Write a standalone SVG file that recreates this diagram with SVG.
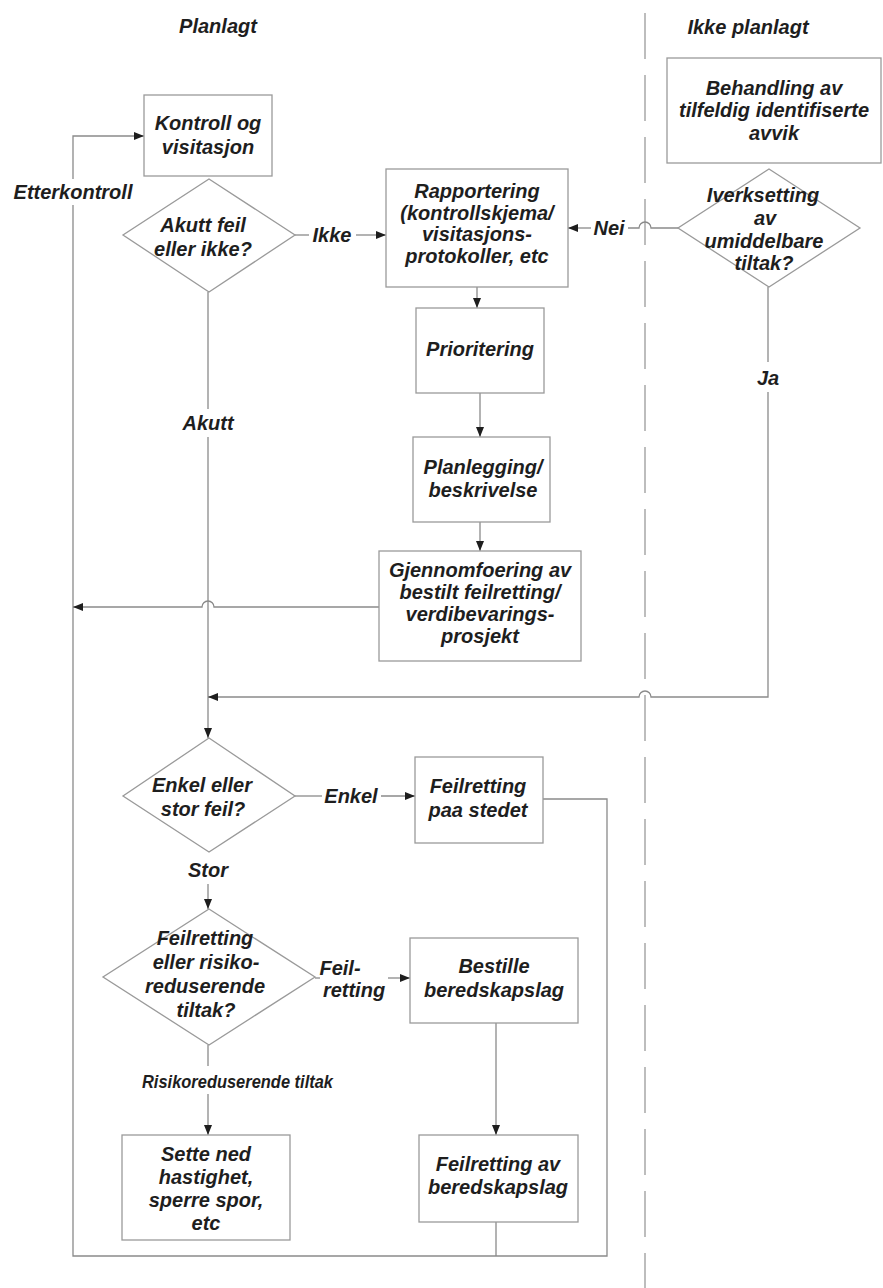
<svg xmlns="http://www.w3.org/2000/svg" width="883" height="1288" viewBox="0 0 883 1288">
<defs>
<marker id="ah" markerWidth="11" markerHeight="9" refX="10" refY="4" orient="auto" markerUnits="userSpaceOnUse">
<path d="M0,0 L10,4 L0,8 z" fill="#1e1e1e"/>
</marker>
<style>
text{font-family:"Liberation Sans",Arial,sans-serif;font-weight:bold;font-style:italic;font-size:20px;fill:#1e1e1e;text-anchor:middle}
.box{fill:#fff;stroke:#9a9a9a;stroke-width:1.3}
.ln{fill:none;stroke:#8a8a8a;stroke-width:1.3}
.arr{fill:none;stroke:#8a8a8a;stroke-width:1.3;marker-end:url(#ah)}
.dash{fill:none;stroke:#9a9a9a;stroke-width:1.3;stroke-dasharray:46 16;stroke-dashoffset:49}
</style>
</defs>
<rect width="883" height="1288" fill="#fff"/>
<line class="dash" x1="645" y1="0" x2="645" y2="1288"/>
<g id="headings">
<text x="218" y="33">Planlagt</text>
<text x="748" y="34">Ikke planlagt</text>
</g>
<g id="connectors">
<path class="ln" d="M543,799 H607 V1256 H73 V205"/>
<path class="arr" d="M73,179 V136 H144"/>
<path class="ln" d="M496,1222 V1256"/>
<path class="arr" d="M379,607 H214 A6,6 0 0 0 202,607 H73"/>
<path class="ln" d="M208,292 V409"/>
<path class="arr" d="M208,437 V738"/>
<path class="ln" d="M768,287 V362"/>
<path class="arr" d="M768,392 V697 H651 A6,6 0 0 0 639,697 H208"/>
<path class="ln" d="M295,235 H309"/>
<path class="arr" d="M356,235 H386"/>
<path class="ln" d="M678,228 H651 A6,6 0 0 0 639,228 H628"/>
<path class="arr" d="M591,228 H568"/>
<path class="ln" d="M295,796 H322"/>
<path class="arr" d="M381,796 H415"/>
<path class="arr" d="M208,884 V909"/>
<path class="ln" d="M315,978 H320"/>
<path class="arr" d="M388,978 H410"/>
<path class="ln" d="M208,1045 V1066"/>
<path class="arr" d="M208,1094 V1135"/>
<path class="arr" d="M496,1023 V1135"/>
<path class="arr" d="M477,287 V308"/>
<path class="arr" d="M480,393 V437"/>
<path class="arr" d="M480,522 V551"/>
</g>
<g id="connector-labels">
<text x="73" y="199">Etterkontroll</text>
<text x="332" y="242">Ikke</text>
<text x="609" y="235">Nei</text>
<text x="768" y="385">Ja</text>
<text x="208" y="430">Akutt</text>
<text x="351" y="803">Enkel</text>
<text x="208" y="877">Stor</text>
<text x="340" y="975">Feil-</text>
<text x="354" y="997">retting</text>
<text x="142" y="1088" style="text-anchor:start;font-size:19px" textLength="191" lengthAdjust="spacingAndGlyphs">Risikoreduserende tiltak</text>
</g>
<g id="n-kontroll">
<rect class="box" x="144" y="95" width="128" height="81"/>
<text x="208" y="130">Kontroll og</text>
<text x="208" y="154">visitasjon</text>
</g>
<g id="n-akutt">
<polygon class="box" points="209,179 295,235 209,292 123,235"/>
<text x="203" y="232">Akutt feil</text>
<text x="203" y="256">eller ikke?</text>
</g>
<g id="n-rapportering">
<rect class="box" x="386" y="169" width="182" height="118"/>
<text x="477" y="198">Rapportering</text>
<text x="477" y="220">(kontrollskjema/</text>
<text x="477" y="241">visitasjons-</text>
<text x="477" y="263">protokoller, etc</text>
</g>
<g id="n-behandling">
<rect class="box" x="667" y="58" width="214" height="105"/>
<text x="774" y="95">Behandling av</text>
<text x="774" y="117">tilfeldig identifiserte</text>
<text x="774" y="140">avvik</text>
</g>
<g id="n-iverksetting">
<polygon class="box" points="769,169 860,228 769,287 678,228"/>
<text x="763" y="202">Iverksetting</text>
<text x="765" y="225">av</text>
<text x="764" y="248">umiddelbare</text>
<text x="764" y="270">tiltak?</text>
</g>
<g id="n-prioritering">
<rect class="box" x="416" y="308" width="128" height="85"/>
<text x="480" y="356">Prioritering</text>
</g>
<g id="n-planlegging">
<rect class="box" x="413" y="437" width="137" height="85"/>
<text x="483" y="474">Planlegging/</text>
<text x="483" y="497">beskrivelse</text>
</g>
<g id="n-gjennomfoering">
<rect class="box" x="379" y="551" width="202" height="110"/>
<text x="480" y="577">Gjennomfoering av</text>
<text x="480" y="599">bestilt feilretting/</text>
<text x="480" y="621">verdibevarings-</text>
<text x="480" y="643">prosjekt</text>
</g>
<g id="n-enkel">
<polygon class="box" points="209,738 295,796 209,852 123,796"/>
<text x="202" y="792">Enkel eller</text>
<text x="203" y="816">stor feil?</text>
</g>
<g id="n-feilretting-stedet">
<rect class="box" x="415" y="757" width="128" height="86"/>
<text x="478" y="793">Feilretting</text>
<text x="478" y="817">paa stedet</text>
</g>
<g id="n-feilretting-risiko">
<polygon class="box" points="209,909 315,977 209,1045 103,977"/>
<text x="205" y="945">Feilretting</text>
<text x="206" y="969">eller risiko-</text>
<text x="205" y="993">reduserende</text>
<text x="206" y="1017">tiltak?</text>
</g>
<g id="n-bestille">
<rect class="box" x="410" y="938" width="168" height="85"/>
<text x="494" y="973">Bestille</text>
<text x="494" y="997">beredskapslag</text>
</g>
<g id="n-sette-ned">
<rect class="box" x="122" y="1135" width="168" height="105"/>
<text x="206" y="1161">Sette ned</text>
<text x="206" y="1184">hastighet,</text>
<text x="206" y="1207">sperre spor,</text>
<text x="206" y="1230">etc</text>
</g>
<g id="n-feilretting-av">
<rect class="box" x="419" y="1135" width="159" height="87"/>
<text x="498" y="1171">Feilretting av</text>
<text x="498" y="1194">beredskapslag</text>
</g>
</svg>
